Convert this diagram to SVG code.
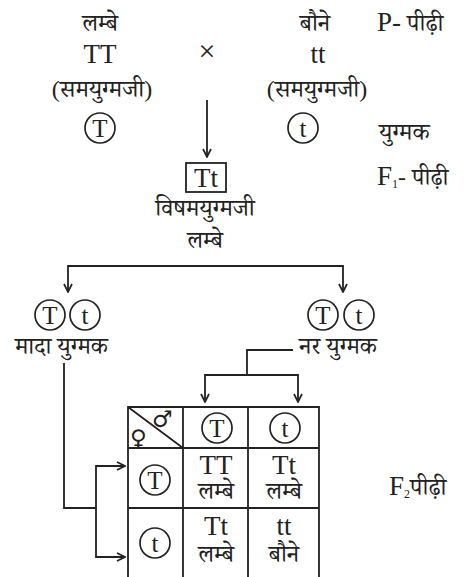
<svg xmlns="http://www.w3.org/2000/svg" width="472" height="577" viewBox="0 0 472 577">
<style>
text{font-family:"Liberation Serif","Noto Serif Devanagari","Lohit Devanagari","Noto Sans",serif;font-size:24px;fill:#222;}
.m{text-anchor:middle;}
.L{font-size:27px;}
.c{font-size:25px;}
.ln{stroke:#222;stroke-width:1.8;fill:none;}
.cir{stroke:#222;stroke-width:1.7;fill:none;}
.sym{font-family:"DejaVu Sans",sans-serif;font-size:23px;}
</style>
<defs>
<marker id="ah" viewBox="0 0 10 10" refX="9" refY="5" markerWidth="10" markerHeight="10" markerUnits="userSpaceOnUse" orient="auto">
<path d="M1,1 L9,5 L1,9" fill="none" stroke="#222" stroke-width="1.7"/>
</marker>
</defs>
<rect width="472" height="577" fill="#fff"/>

<g id="p-gen">
<text class="m" x="100" y="31">लम्बे</text>
<text class="m" x="315" y="31">बौने</text>
<text x="377" y="31"><tspan class="L">P-</tspan> पीढ़ी</text>
<text class="m L" x="100" y="63">TT</text>
<text class="m" x="207" y="61" style="font-size:30px">×</text>
<text class="m L" x="318" y="63">tt</text>
<text class="m" x="102" y="97">(समयुग्मजी)</text>
<text class="m" x="317" y="97">(समयुग्मजी)</text>
</g>

<g id="gametes-p">
<circle class="cir" cx="100" cy="128" r="15"/>
<text class="m c" x="100" y="136.5">T</text>
<circle class="cir" cx="303" cy="128" r="15"/>
<text class="m c" x="303" y="136.5">t</text>
<text x="379" y="140">युग्मक</text>
</g>

<g id="f1">
<rect class="ln" x="186" y="163" width="40" height="29"/>
<text class="m L" x="206" y="187">Tt</text>
<text x="377" y="185"><tspan class="L">F</tspan><tspan style="font-size:12px" dy="3">1</tspan><tspan dy="-3">- पीढ़ी</tspan></text>
<text class="m" x="205" y="216">विषमयुग्मजी</text>
<text class="m" x="205" y="248">लम्बे</text>
</g>

<g id="female-gametes">
<circle class="cir" cx="50" cy="315" r="15"/>
<text class="m c" x="50" y="323.5">T</text>
<circle class="cir" cx="85" cy="315" r="15"/>
<text class="m c" x="85" y="323.5">t</text>
<text x="15" y="354">मादा युग्मक</text>
</g>

<g id="male-gametes">
<circle class="cir" cx="323" cy="315" r="15"/>
<text class="m c" x="323" y="323.5">T</text>
<circle class="cir" cx="359" cy="315" r="15"/>
<text class="m c" x="359" y="323.5">t</text>
<text x="299" y="354">नर युग्मक</text>
</g>

<g id="punnett">
<path class="ln" d="M128,580 V407 H319 V580 M183,407 V580 M248,407 V580 M128,448 H319 M128,508 H319 M128,407 L183,448"/>
<text class="sym" x="130" y="446">♀</text>
<text class="sym" x="152" y="427">♂</text>
<circle class="cir" cx="217" cy="428" r="15"/>
<text class="m c" x="217" y="436.5">T</text>
<circle class="cir" cx="285" cy="428" r="15"/>
<text class="m c" x="285" y="436.5">t</text>
<circle class="cir" cx="155" cy="480" r="15"/>
<text class="m c" x="155" y="488.5">T</text>
<circle class="cir" cx="155" cy="543" r="15"/>
<text class="m c" x="155" y="551.5">t</text>
<text class="m L" x="216" y="474">TT</text>
<text class="m" x="216" y="499">लम्बे</text>
<text class="m L" x="284" y="474">Tt</text>
<text class="m" x="284" y="499">लम्बे</text>
<text class="m L" x="216" y="535">Tt</text>
<text class="m" x="216" y="562">लम्बे</text>
<text class="m L" x="284" y="535">tt</text>
<text class="m" x="284" y="562">बौने</text>
</g>

<g id="f2-label">
<text x="389" y="495"><tspan class="L">F</tspan><tspan style="font-size:12px" dy="3">2</tspan><tspan dy="-3">पीढ़ी</tspan></text>
</g>

<g id="connectors">
<path class="ln" d="M207,100 V157" marker-end="url(#ah)"/>
<path class="ln" d="M205,266 H68 V292" marker-end="url(#ah)"/>
<path class="ln" d="M205,266 H343 V292" marker-end="url(#ah)"/>
<path class="ln" d="M293,350 H247 V375 H205 V402" marker-end="url(#ah)"/>
<path class="ln" d="M247,375 H298 V402" marker-end="url(#ah)"/>
<path class="ln" d="M64,363 V508 H96 V466 H125" marker-end="url(#ah)"/>
<path class="ln" d="M96,508 V557 H125" marker-end="url(#ah)"/>
</g>
</svg>
